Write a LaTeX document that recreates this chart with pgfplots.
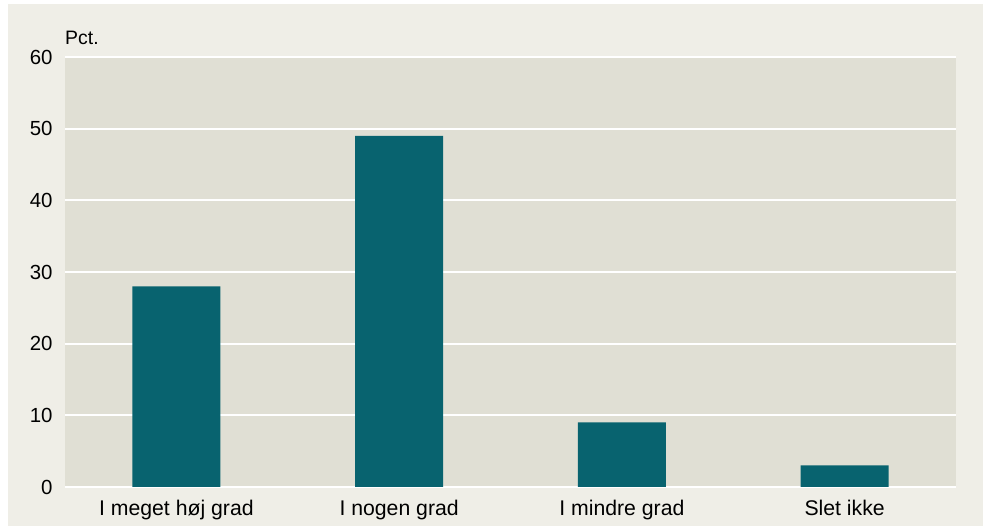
\documentclass[border=0pt]{standalone}
\usepackage{pgfplots}
\pgfplotsset{compat=1.18}
\usepackage{fontspec}
\setmainfont{Liberation Sans}
\definecolor{outerbg}{HTML}{EFEEE7}
\definecolor{plotbg}{HTML}{E0DFD4}
\definecolor{barcol}{HTML}{08636F}

\begin{document}
\begin{tikzpicture}[x=1bp,y=1bp]
\fill[white] (-65,-39) rectangle (918,487);
\fill[outerbg] (-57,-39) rectangle (918,483);
\useasboundingbox (-65,-39) rectangle (918,487);
\begin{axis}[
  at={(0,0)}, anchor=south west,
  scale only axis,
  width=891bp, height=430bp,
  xmin=-0.5, xmax=3.5,
  ymin=0, ymax=60,
  ytick={0,10,20,30,40,50,60},
  xtick=data,
  xticklabels={I meget høj grad, I nogen grad, I mindre grad, Slet ikke},
  axis line style={draw=none},
  major tick length=0pt,
  ymajorgrids,
  grid style={white, line width=1.8bp},
  axis background/.style={fill=plotbg},
  yticklabel style={font=\fontsize{20.5}{24}\selectfont, xshift=-9bp},
  xticklabel style={font=\fontsize{21.3}{25}\selectfont, yshift=-10bp},
  /pgf/number format/assume math mode=true,
  clip=false,
]
\addplot[ybar, bar width=88bp, fill=barcol, draw=none] coordinates {
  (0,28) (1,49) (2,9) (3,3)
};
\node[anchor=west, inner sep=0pt, font=\fontsize{19.5}{22}\selectfont] at ([yshift=19bp]rel axis cs:0,1) {Pct.};
\end{axis}
\end{tikzpicture}
\end{document}
